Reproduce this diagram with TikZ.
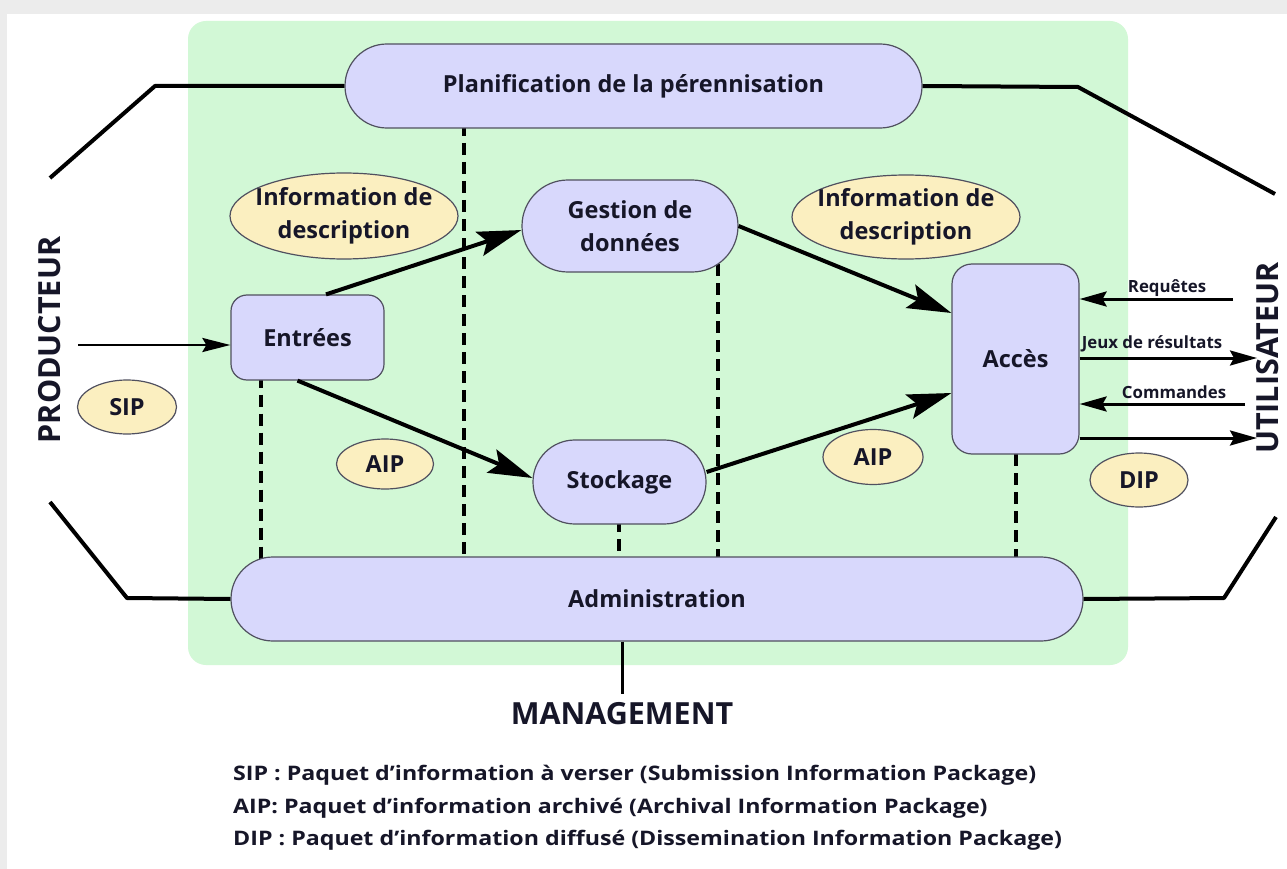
\documentclass[tikz,border=0pt]{standalone}
\usepackage{fontspec}
\setmainfont{Open Sans}
\usetikzlibrary{arrows.meta,calc,shapes.geometric}
\pgfdeclarelayer{bg}
\pgfdeclarelayer{mid}
\pgfsetlayers{bg,mid,main}
\definecolor{mint}{RGB}{210,248,214}
\definecolor{lav}{RGB}{216,216,252}
\definecolor{cream}{RGB}{251,239,192}
\definecolor{txt}{RGB}{22,22,40}
\definecolor{edge}{RGB}{80,80,95}
\definecolor{greybg}{RGB}{236,236,236}
\begin{document}
\begin{tikzpicture}[x=1pt,y=-1pt,
  nfont/.style={font=\fontsize{23.5}{33}\selectfont\bfseries},
  proc/.style={draw=edge, line width=1.2pt, fill=lav, text=txt, nfont, align=center, inner sep=0pt},
  info/.style={ellipse, draw=edge, line width=1.2pt, fill=cream, inner sep=0pt},
  infotext/.style={text=txt, nfont, align=center, inner sep=0pt},
  bigarrow/.style={-{Stealth[length=44pt,width=25pt,inset=8pt]}, line width=4pt, black},
  thinarrow/.style={-{Stealth[length=27pt,width=15pt,inset=4pt]}, line width=3pt, black},
  dashline/.style={line width=4pt, dash pattern=on 12pt off 7pt, black},
  outline/.style={line width=4pt, black, line join=round},
  small/.style={font=\fontsize{16.8}{18}\selectfont\bfseries, text=txt, inner sep=0pt},
  actor/.style={font=\fontsize{30.5}{32}\selectfont\bfseries, text=txt, inner sep=0pt},
  legend/.style={font=\fontsize{20}{22}\selectfont\bfseries, text=txt, inner sep=0pt, anchor=west}
]
\useasboundingbox (0,0) rectangle (1287,869);
\begin{pgfonlayer}{bg}
  \fill[greybg] (0,0) rectangle (1287,869);
  \fill[white] (7,14) rectangle (1287,869);
  \fill[mint, rounded corners=18pt] (188,21) rectangle (1128,665);
\end{pgfonlayer}

% main nodes
\node[proc, minimum width=577pt, minimum height=84pt, rounded corners=41.9pt] (plan) at (633.5,86) {Planification de la pérennisation};
\node[proc, minimum width=852pt, minimum height=84pt, rounded corners=41.9pt] (admin) at (657,599) {Administration};
\node[proc, minimum width=153pt, minimum height=85pt, rounded corners=16pt] (entrees) at (307.5,337.5) {Entrées};
\node[proc, minimum width=216pt, minimum height=92pt, rounded corners=45.9pt] (gest) at (630,226) {Gestion de\\données};
\node[proc, minimum width=173pt, minimum height=84pt, rounded corners=41.9pt] (stock) at (619.5,482) {Stockage};
\node[proc, minimum width=127pt, minimum height=190pt, rounded corners=20pt] (acces) at (1015.5,359) {Accès};

% ellipses
\node[info, minimum width=228pt, minimum height=86pt, label={[infotext]center:Information de\\description}] (idl) at (344,216) {};
\node[info, minimum width=228pt, minimum height=84pt, label={[infotext]center:Information de\\description}] (idr) at (906,217) {};
\node[info, minimum width=99pt, minimum height=54pt, label={[infotext]center:SIP}] (sip) at (127,407) {};
\node[info, minimum width=97pt, minimum height=50pt, label={[infotext]center:AIP}] (aipl) at (385,464) {};
\node[info, minimum width=100pt, minimum height=55pt, label={[infotext]center:AIP}] (aipr) at (873,457) {};
\node[info, minimum width=98pt, minimum height=54pt, label={[infotext]center:DIP}] (dip) at (1139,480) {};

% dashed links
\coordinate (d1) at (464,0);
\coordinate (d2) at (261,0);
\coordinate (d3) at (718,0);
\coordinate (d4) at (619,0);
\coordinate (d5) at (1016,0);
\begin{pgfonlayer}{mid}
  \draw[dashline] (plan.center -| d1) -- (admin.center -| d1);
  \draw[dashline] (entrees.center -| d2) -- (admin.center -| d2);
  \draw[dashline] (gest.center -| d3) -- (admin.center -| d3);
  \draw[dashline] (stock.center -| d4) -- (admin.center -| d4);
  \draw[dashline] (acces.center -| d5) -- (admin.center -| d5);
\end{pgfonlayer}

% flow arrows
\draw[bigarrow] ([xshift=18.5pt]entrees.north) -- ([yshift=-4pt]gest.west);
\draw[bigarrow] ([xshift=-10pt]entrees.south) -- ([yshift=4pt]stock.west);
\draw[bigarrow] (gest.east) -- ([yshift=46pt]acces.west);
\draw[bigarrow] ([yshift=10pt]stock.east) -- ([yshift=-34pt]acces.west);

% producer
\coordinate (p0) at (78,345);
\draw[-{Stealth[length=28pt,width=14pt,inset=4pt]}, line width=2.5pt] (p0) -- (entrees.west |- p0);
\node[actor, rotate=90] (prod) at (50,340) {PRODUCTEUR};

% user side
\coordinate (q1) at (1233,299);
\coordinate (q2) at (1257,358);
\coordinate (q3) at (1245,404);
\coordinate (q4) at (1257,438);
\draw[thinarrow] (q1) -- (acces.east |- q1);
\draw[thinarrow] (acces.east |- q2) -- (q2);
\draw[thinarrow] (q3) -- (acces.east |- q3);
\draw[thinarrow] (acces.east |- q4) -- (q4);
\node[small] (lreq) at (1167,288) {Requêtes};
\node[small] (ljeu) at (1152,344) {Jeux de résultats};
\node[small] (lcom) at (1174,392) {Commandes};
\node[actor, rotate=90] (util) at (1268,358) {UTILISATEUR};

% outer frame lines
\coordinate (tl1) at (50,178);
\coordinate (tl2) at (155,86);
\coordinate (tr1) at (1078,87);
\coordinate (tr2) at (1275,194);
\coordinate (bl1) at (50,502);
\coordinate (bl2) at (127,598);
\coordinate (br1) at (1224,598);
\coordinate (br2) at (1276,517);
\draw[outline] (tl1) -- (tl2) -- (plan.west);
\draw[outline] (plan.east) -- (tr1) -- (tr2);
\draw[outline] (bl1) -- (bl2) -- (admin.west);
\draw[outline] (admin.east) -- (br1) -- (br2);

% management
\coordinate (mg) at (622,694);
\draw[line width=3pt] (admin.south -| mg) -- (mg);
\node[actor] (mgmt) at (622,714) {MANAGEMENT};

% legend
\node[legend] (l1) at (233,775) {\scalebox{1.16}[1]{SIP : Paquet d’information à verser (Submission Information Package)}};
\node[legend] (l2) at (233,808) {\scalebox{1.16}[1]{AIP: Paquet d’information archivé (Archival Information Package)}};
\node[legend] (l3) at (233,840) {\scalebox{1.16}[1]{DIP : Paquet d’information diffusé (Dissemination Information Package)}};
\end{tikzpicture}
\end{document}
